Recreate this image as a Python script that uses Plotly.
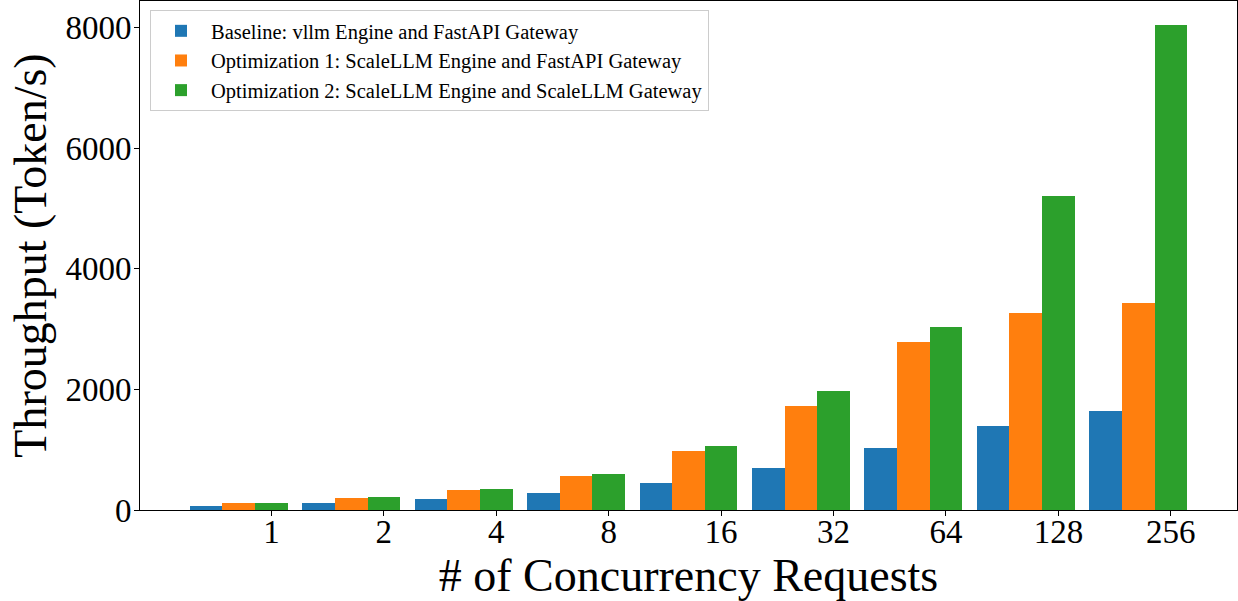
import numpy as np
import plotly.graph_objects as go

categories = ["1", "2", "4", "8", "16", "32", "64", "128", "256"]
baseline = [70, 121, 188, 280, 445, 695, 1035, 1395, 1645]
opt1 = [121, 204, 337, 563, 978, 1723, 2780, 3275, 3425]
opt2 = [121, 221, 354, 597, 1060, 1972, 3040, 5215, 8040]

series_names = [
    "Baseline: vllm Engine and FastAPI Gateway",
    "Optimization 1: ScaleLLM Engine and FastAPI Gateway",
    "Optimization 2: ScaleLLM Engine and ScaleLLM Gateway",
]
colors = ["#1f77b4", "#ff7f0e", "#2ca02c"]
BAR_WIDTH = 0.29

idx = np.arange(len(categories))
offsets = [-2 * BAR_WIDTH, -BAR_WIDTH, 0.0]
FONT = "Liberation Serif"

fig = go.Figure()
for name, vals, col, off in zip(series_names, [baseline, opt1, opt2], colors, offsets):
    fig.add_trace(go.Bar(
        x=idx + off, y=vals, width=BAR_WIDTH, name=name,
        marker=dict(color=col, line=dict(width=0)),
    ))

span_lo = idx[0] - 2 * BAR_WIDTH - BAR_WIDTH / 2
span_hi = idx[-1] + BAR_WIDTH / 2
pad = 0.05 * (span_hi - span_lo)
ymax = max(opt2) * 1.05

fig.update_layout(
    width=1238, height=601,
    margin=dict(l=140, r=1, t=1, b=91, autoexpand=False),
    paper_bgcolor="white", plot_bgcolor="white",
    font=dict(family=FONT, color="black"),
    bargap=0, barmode="overlay",
    showlegend=True,
    legend=dict(
        x=10 / 1097, y=1 - 9 / 509, xanchor="left", yanchor="top",
        font=dict(family=FONT, size=20.5, color="black"),
        bgcolor="rgba(255,255,255,0.8)", bordercolor="#cccccc", borderwidth=1,
        itemwidth=50,
    ),
    xaxis=dict(
        range=[span_lo - pad, span_hi + pad],
        tickmode="array", tickvals=idx, ticktext=categories,
        ticks="outside", ticklen=5, tickcolor="black", tickwidth=1,
        showline=True, linecolor="black", linewidth=1, mirror=True,
        showgrid=False, zeroline=False, automargin=False,
        tickfont=dict(family=FONT, size=33), ticklabelstandoff=-13,
        title=dict(text="# of Concurrency Requests", font=dict(family=FONT, size=46), standoff=5),
    ),
    yaxis=dict(
        range=[0, ymax],
        tickmode="array", tickvals=[0, 2000, 4000, 6000, 8000],
        ticks="outside", ticklen=5, tickcolor="black", tickwidth=1,
        showline=True, linecolor="black", linewidth=1, mirror=True,
        showgrid=False, zeroline=False, automargin=False,
        tickfont=dict(family=FONT, size=33), ticklabelstandoff=-4,
        title=dict(text="Throughput (Token/s)", font=dict(family=FONT, size=46), standoff=4),
    ),
)

fig.write_html("out.html", config={"displayModeBar": False},
               post_script="document.body.style.margin='0';")
